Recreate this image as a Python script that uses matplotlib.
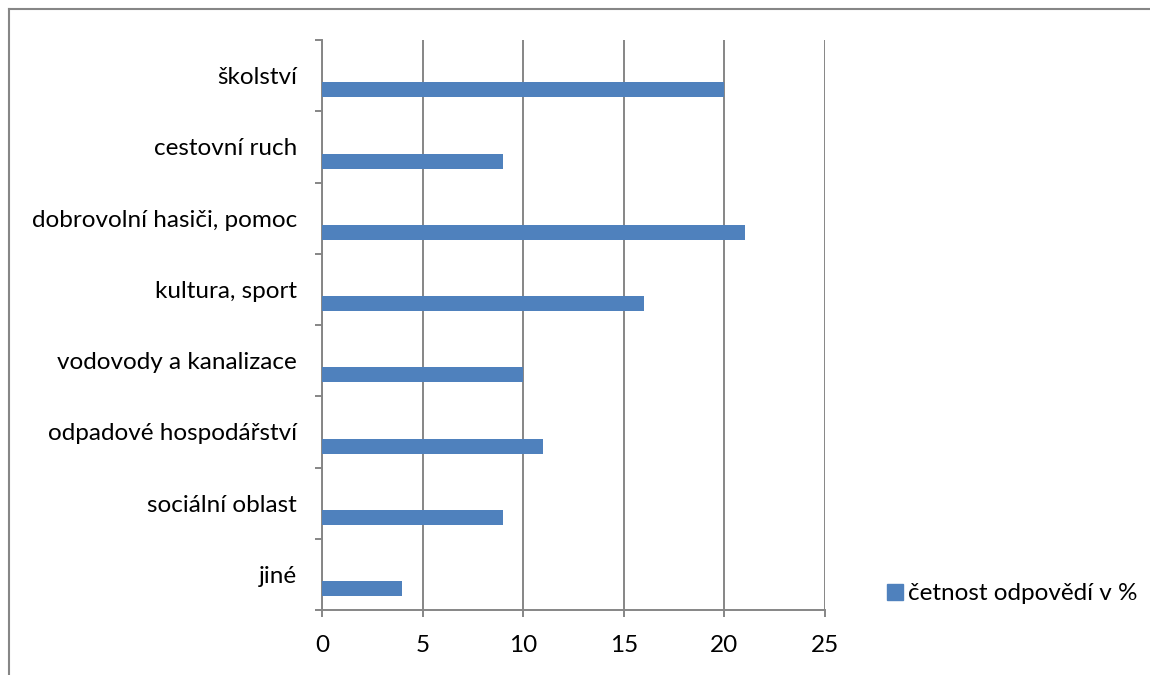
import numpy as np
import matplotlib
matplotlib.use('Agg')
import matplotlib.pyplot as plt
from matplotlib.lines import Line2D
from matplotlib.patches import Patch

plt.rcParams['font.family'] = ['Lato', 'DejaVu Sans']

categories = ['školství', 'cestovní ruch', 'dobrovolní hasiči, pomoc',
              'kultura, sport', 'vodovody a kanalizace',
              'odpadové hospodářství', 'sociální oblast', 'jiné']
values = [20, 9, 21, 16, 10, 11, 9, 4]
series_name = 'četnost odpovědí v %'
xticks = [0, 5, 10, 15, 20, 25]

bar_color = '#4F81BD'
grid_color = '#868686'
fs = 17.5

fig = plt.figure(figsize=(11.5, 6.75), dpi=100)
ax = fig.add_axes([322 / 1150, 1 - 610 / 675, (825 - 322) / 1150, (610 - 40) / 675])

n = len(categories)
pos = np.arange(n)[::-1]
# bar sits in the lower part of each category band, as in the original
ax.barh(pos - 0.2, values, height=0.21, color=bar_color, zorder=3)

ax.set_xlim(0, 25)
ax.set_ylim(-0.5, n - 0.5)
ax.set_xticks(xticks)
ax.set_xticklabels([str(t) for t in xticks], fontsize=fs)
ax.tick_params(axis='x', length=5, width=1.4, color=grid_color, pad=13)

ax.set_yticks(pos)
ax.set_yticklabels(categories, fontsize=fs)
ax.tick_params(axis='y', length=0, pad=18)
ax.set_yticks(np.arange(n + 1) - 0.5, minor=True)
ax.tick_params(axis='y', which='minor', length=5, width=1.4, color=grid_color)

ax.grid(axis='x', color=grid_color, linewidth=1.4, zorder=0)
for s in ['top', 'right']:
    ax.spines[s].set_visible(False)
for s in ['left', 'bottom']:
    ax.spines[s].set_color(grid_color)
    ax.spines[s].set_linewidth(1.4)

leg = fig.legend(handles=[Patch(color=bar_color, label=series_name)],
                 loc='center left', bbox_to_anchor=(870 / 1150, 1 - 594 / 675),
                 frameon=False, fontsize=fs, handlelength=0.65,
                 handleheight=0.65, handletextpad=0.2, borderpad=0.2)

# outer chart border (left and top edges visible)
fig.add_artist(Line2D([8.5 / 1150, 8.5 / 1150], [0, 1 - 8.5 / 675],
                      color=grid_color, linewidth=1.5))
fig.add_artist(Line2D([8.5 / 1150, 1], [1 - 8.5 / 675, 1 - 8.5 / 675],
                      color=grid_color, linewidth=1.5))

fig.savefig('out.png', dpi=100)
